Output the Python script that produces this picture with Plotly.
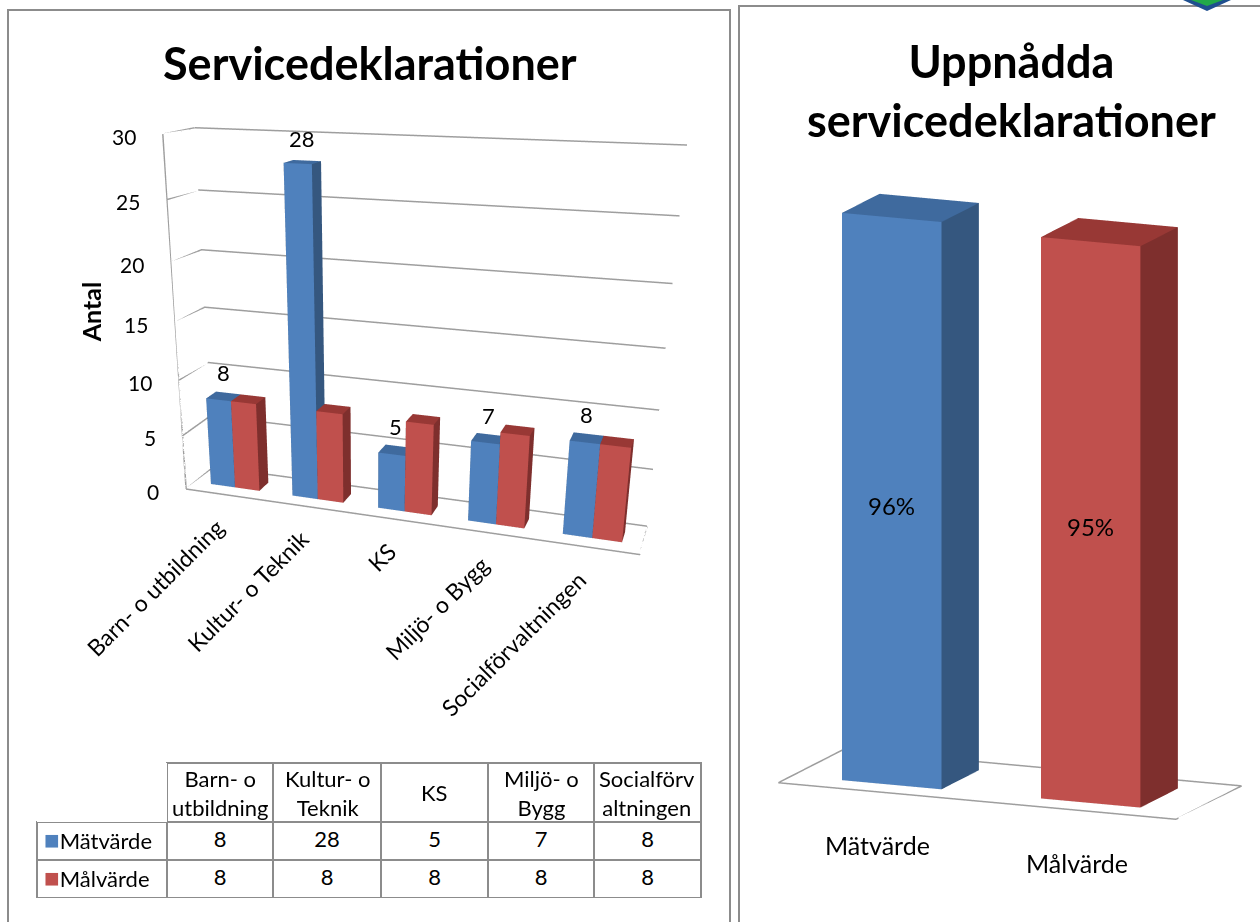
import math
import plotly.graph_objects as go

# ---------------- data ----------------
categories = ["Barn- o utbildning", "Kultur- o Teknik", "KS", "Miljö- o Bygg", "Socialförvaltningen"]
table_headers = ["Barn- o<br>utbildning", "Kultur- o<br>Teknik", "KS", "Miljö- o<br>Bygg", "Socialförv<br>altningen"]
series_names = ["Mätvärde", "Målvärde"]
matvarde = [8, 28, 5, 7, 8]
malvarde = [8, 8, 8, 8, 8]
y_ticks = [0, 5, 10, 15, 20, 25, 30]

pct_categories = ["Mätvärde", "Målvärde"]
pct_values = [96, 95]
pct_labels = ["96%", "95%"]

# ---------------- style ----------------
W, H = 1260, 922
FONT = "Lato"
BLUE = dict(front="#4F81BD", side="#35577F", top="#3F6A9E")
RED = dict(front="#C0504D", side="#7E2F2D", top="#983835")
GRID = "#9E9E9E"
BORDER = "#8C8C8C"
FOV = math.pi / 4
ORTHO_PPU = 463.0  # plotly's fixed orthographic scale (px per normalized unit) for a 922 px tall scene


def px(x):
    return x / W


def py(y):
    return 1 - y / H


def box_mesh(xcenters, heights, width, y0, y1, col, name, scene):
    X, Y, Z, I, J, K, FC = [], [], [], [], [], [], []
    for xc, h in zip(xcenters, heights):
        b = len(X)
        x0, x1 = xc - width / 2, xc + width / 2
        for (a, bb, c) in [(x0, y0, 0), (x1, y0, 0), (x1, y1, 0), (x0, y1, 0),
                           (x0, y0, h), (x1, y0, h), (x1, y1, h), (x0, y1, h)]:
            X.append(a); Y.append(bb); Z.append(c)
        faces = [((0, 1, 5), col["front"]), ((0, 5, 4), col["front"]),
                 ((1, 2, 6), col["side"]), ((1, 6, 5), col["side"]),
                 ((4, 5, 6), col["top"]), ((4, 6, 7), col["top"]),
                 ((3, 2, 6), col["side"]), ((3, 6, 7), col["side"]),
                 ((0, 3, 7), col["side"]), ((0, 7, 4), col["side"]),
                 ((0, 1, 2), col["side"]), ((0, 2, 3), col["side"])]
        for (i, j, k), c in faces:
            I.append(b + i); J.append(b + j); K.append(b + k); FC.append(c)
    return go.Mesh3d(x=X, y=Y, z=Z, i=I, j=J, k=K, facecolor=FC, flatshading=True,
                     lighting=dict(ambient=1, diffuse=0, specular=0, roughness=1, fresnel=0),
                     hoverinfo="skip", name=name, showscale=False, scene=scene)


def line3d(xs, ys, zs, scene):
    return go.Scatter3d(x=xs, y=ys, z=zs, mode="lines", line=dict(color=GRID, width=3),
                        hoverinfo="skip", showlegend=False, scene=scene)


def camera(az_deg, el_deg, ppu, vp_h, c, shift=(0, 0), proj="perspective"):
    """ppu = screen px per normalized unit at the look-at point; shift = image shift in px (right, down)."""
    az, el = math.radians(az_deg), math.radians(el_deg)
    f = (vp_h / 2) / math.tan(FOV / 2)
    d = f / ppu
    R = (math.cos(az), math.sin(az), 0)
    U = (-math.sin(el) * math.sin(az), math.sin(el) * math.cos(az), math.cos(el))
    sx, sy = shift[0] / ppu, shift[1] / ppu
    cc = [c[k] - sx * R[k] + sy * U[k] for k in range(3)]
    dirv = (math.cos(el) * math.sin(az), -math.cos(el) * math.cos(az), math.sin(el))
    return dict(eye=dict(x=cc[0] + d * dirv[0], y=cc[1] + d * dirv[1], z=cc[2] + d * dirv[2]),
                center=dict(x=cc[0], y=cc[1], z=cc[2]),
                up=dict(x=0, y=0, z=1), projection=dict(type=proj))


fig = go.Figure()

# ---------------- left 3D chart ----------------
n = len(categories)
xmin, xmax = -0.5, n - 0.5
bw = 0.3
bar_y0, bar_y1 = 0.32, 0.68
zmax = y_ticks[-1]

for t in y_ticks:
    fig.add_trace(line3d([xmin, xmin, xmax], [0, 1, 1], [t, t, t], "scene"))
fig.add_trace(line3d([xmin, xmax, xmax], [0, 0, 1], [0, 0, 0], "scene"))
fig.add_trace(line3d([xmin, xmin], [0, 0], [0, zmax], "scene"))

fig.add_trace(box_mesh([i - bw / 2 for i in range(n)], matvarde, bw, bar_y0, bar_y1, BLUE, series_names[0], "scene"))
fig.add_trace(box_mesh([i + bw / 2 for i in range(n)], malvarde, bw, bar_y0, bar_y1, RED, series_names[1], "scene"))

tick_font = dict(family=FONT, size=21, color="black")
val_font = dict(family=FONT, size=22, color="black")
cat_font = dict(family=FONT, size=23, color="black")
left_ann = []
for t in y_ticks:
    left_ann.append(dict(x=xmin, y=0, z=t, text=str(t), showarrow=False, xanchor="right",
                         xshift=-25, yshift=-2, font=tick_font))
left_ann.append(dict(x=xmin, y=0, z=zmax * 0.53, text="<b>Antal</b>", showarrow=False, textangle=-90,
                     xshift=-84, font=dict(family=FONT, size=25, color="black")))
for i, v in enumerate(matvarde):
    left_ann.append(dict(x=i - bw / 2, y=(bar_y0 + bar_y1) / 2, z=v, text=str(v), showarrow=False,
                         yanchor="bottom", yshift=8, font=val_font))
for i, c in enumerate(categories):
    left_ann.append(dict(x=i, y=0, z=0, text=c, showarrow=False, textangle=-45, xanchor="right",
                         yanchor="top", xshift=6, yshift=-15, font=cat_font))

axis_off = dict(visible=False, showspikes=False)
fig.update_layout(scene=dict(
    domain=dict(x=[0, px(730)], y=[0, 1]),
    xaxis=dict(range=[xmin, xmax], **axis_off),
    yaxis=dict(range=[0, 1], **axis_off),
    zaxis=dict(range=[0, zmax], **axis_off),
    aspectmode="manual", aspectratio=dict(x=1.30, y=0.18, z=1.0),
    camera=camera(19, 22, 354, H, (-0.128, 0, -0.42), shift=(0, 14)),
    bgcolor="rgba(0,0,0,0)",
    annotations=left_ann,
))

# ---------------- right 3D chart ----------------
m = len(pct_values)
rxmin, rxmax = -0.5, m - 0.5
rbw = 0.5
rb_y0, rb_y1 = 0.214, 0.786
fig.add_trace(line3d([rxmin, rxmax, rxmax, rxmin, rxmin], [0, 0, 1, 1, 0], [0, 0, 0, 0, 0], "scene2"))
fig.add_trace(box_mesh([0], [pct_values[0]], rbw, rb_y0, rb_y1, BLUE, pct_categories[0], "scene2"))
fig.add_trace(box_mesh([1], [pct_values[1]], rbw, rb_y0, rb_y1, RED, pct_categories[1], "scene2"))

rfont = dict(family=FONT, size=24, color="black")
rcat_font = dict(family=FONT, size=25, color="black")
right_ann = []
for i, (v, lab) in enumerate(zip(pct_values, pct_labels)):
    right_ann.append(dict(x=i, y=rb_y0, z=v / 2, text=lab, showarrow=False, yshift=-4, font=rfont))
for i, c in enumerate(pct_categories):
    right_ann.append(dict(x=i, y=0, z=0, text=c, showarrow=False, yanchor="top", yshift=-36, font=rcat_font))

rs = 614.0 / ORTHO_PPU
fig.update_layout(scene2=dict(
    domain=dict(x=[px(740), 1], y=[0, 1]),
    xaxis=dict(range=[rxmin, rxmax], **axis_off),
    yaxis=dict(range=[0, 1], **axis_off),
    zaxis=dict(range=[0, 100], **axis_off),
    aspectmode="manual", aspectratio=dict(x=0.707 * rs, y=0.274 * rs, z=0.99 * rs),
    camera=camera(23, 12.5, ORTHO_PPU, H, (0, 0, 0), shift=(10, 28), proj="orthographic"),
    bgcolor="rgba(0,0,0,0)",
    annotations=right_ann,
))

# ---------------- data table ----------------
col_edges = [167, 273, 381, 488, 594, 701]
label_left = 37
tab_top, head_bot, tab_bot = 763, 822, 898
row_h = (tab_bot - head_bot) / 2
tfont = dict(family=FONT, size=22, color="black")
fig.add_trace(go.Table(
    domain=dict(x=[px(col_edges[0]), px(col_edges[-1])], y=[py(tab_bot), py(tab_top)]),
    columnwidth=[col_edges[k + 1] - col_edges[k] for k in range(len(col_edges) - 1)],
    header=dict(values=[""] * len(table_headers), align="center", height=head_bot - tab_top,
                font=tfont, line=dict(color=BORDER, width=2), fill=dict(color="white")),
    cells=dict(values=[[a, b] for a, b in zip(matvarde, malvarde)], align="center", height=row_h,
               font=tfont, line=dict(color=BORDER, width=2), fill=dict(color="white")),
))
fig.add_trace(go.Table(
    domain=dict(x=[px(label_left), px(col_edges[0])], y=[py(tab_bot), py(tab_top)]),
    columnwidth=[col_edges[0] - label_left],
    header=dict(values=[""], height=head_bot - tab_top, fill=dict(color="white"),
                line=dict(color="white", width=0)),
    cells=dict(values=[["", ""]], align="left", height=row_h, font=tfont,
               line=dict(color=BORDER, width=2), fill=dict(color="white")),
))
for k, hdr in enumerate(table_headers):
    fig.add_annotation(x=px((col_edges[k] + col_edges[k + 1]) / 2), y=py((tab_top + head_bot) / 2),
                       xref="paper", yref="paper", text=hdr, showarrow=False, xanchor="center",
                       yanchor="middle", align="center", font=tfont)
for r, (nm, col) in enumerate(zip(series_names, [BLUE["front"], RED["front"]])):
    fig.add_annotation(x=px(label_left + 5), y=py(head_bot + row_h * (r + 0.5)), xref="paper", yref="paper",
                       text="<span style='color:%s;font-size:26px'>■</span>%s" % (col, nm), showarrow=False,
                       xanchor="left", yanchor="middle", yshift=2, font=tfont)

# ---------------- titles & frames ----------------
tt_font = dict(family=FONT, size=45, color="black")
fig.add_annotation(x=px(370), y=py(63), xref="paper", yref="paper", text="<b>Servicedeklarationer</b>",
                   showarrow=False, xanchor="center", yanchor="middle", font=tt_font)
fig.add_annotation(x=px(1011), y=py(90), xref="paper", yref="paper",
                   text="<b>Uppnådda<br>servicedeklarationer</b>", align="center",
                   showarrow=False, xanchor="center", yanchor="middle", font=tt_font)

shapes = [
    dict(type="path", xref="paper", yref="paper", line=dict(color=BORDER, width=2),
         path="M%f,%f L%f,%f L%f,%f L%f,%f" % (px(8), py(H + 5), px(8), py(10), px(730), py(10), px(730), py(H + 5))),
    dict(type="path", xref="paper", yref="paper", line=dict(color=BORDER, width=2),
         path="M%f,%f L%f,%f L%f,%f" % (px(739), py(H + 5), px(739), py(6), px(W + 5), py(6))),
    dict(type="path", xref="paper", yref="paper", line=dict(width=0), fillcolor="#1F4F8F",
         path="M%f,%f L%f,%f L%f,%f Z" % (px(1183), py(0), px(1207), py(11), px(1231), py(0))),
    dict(type="path", xref="paper", yref="paper", line=dict(width=0), fillcolor="#22A94A",
         path="M%f,%f L%f,%f L%f,%f Z" % (px(1191), py(0), px(1207), py(6), px(1223), py(0))),
]

fig.update_layout(width=W, height=H, margin=dict(l=0, r=0, t=0, b=0), paper_bgcolor="white",
                  plot_bgcolor="white", showlegend=False, shapes=shapes, hovermode=False,
                  font=dict(family=FONT))

fig.write_html("out.html", config={"displayModeBar": False},
               post_script="document.body.style.margin='0px';")
